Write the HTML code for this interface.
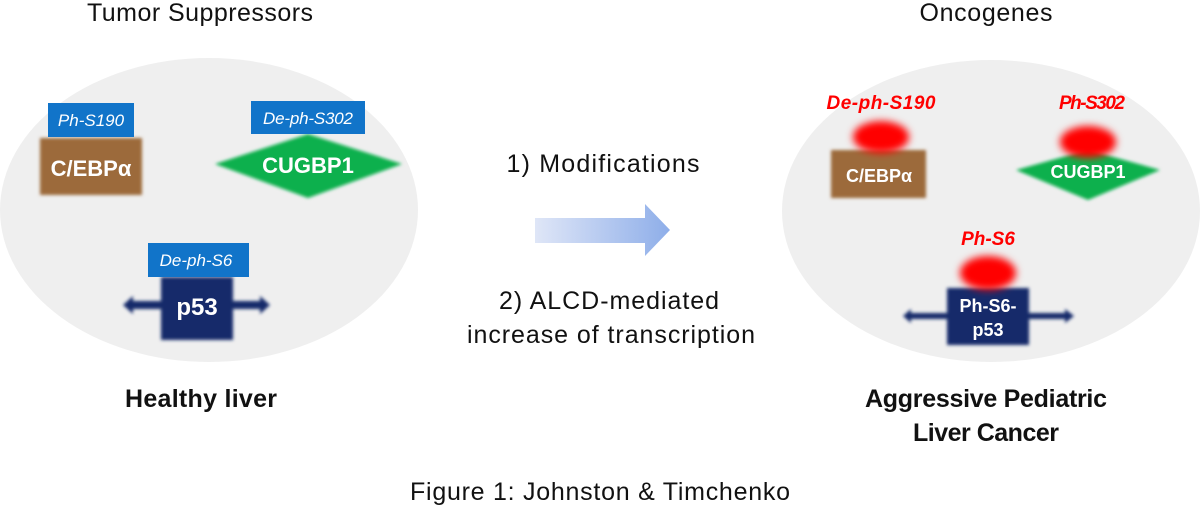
<!DOCTYPE html>
<html><head><meta charset="utf-8"><style>
body{margin:0;background:#fff}
svg{display:block}
text{font-family:"Liberation Sans",sans-serif}
</style></head><body>
<svg width="1200" height="506" viewBox="0 0 1200 506" xmlns="http://www.w3.org/2000/svg">
<defs>
<filter id="b1" x="-20%" y="-20%" width="140%" height="140%"><feGaussianBlur stdDeviation="1.5"/></filter>
<filter id="b2" x="-50%" y="-50%" width="200%" height="200%"><feGaussianBlur stdDeviation="4"/></filter>
<linearGradient id="g" x1="0" x2="1"><stop offset="0" stop-color="#dfe6f7"/><stop offset="1" stop-color="#8eaee9"/></linearGradient>
</defs>
<rect width="1200" height="506" fill="#fff"/>
<text x="200" y="21" font-size="25" text-anchor="middle" fill="#111" textLength="226">Tumor Suppressors</text>
<text x="986" y="21" font-size="25" text-anchor="middle" fill="#111" textLength="133">Oncogenes</text>
<ellipse cx="209" cy="210" rx="209" ry="152" fill="#efefef"/>
<ellipse cx="991" cy="211" rx="209" ry="151" fill="#efefef"/>
<g filter="url(#b1)">
<rect x="40" y="138" width="102" height="57" fill="#9c6a3a"/>
<polygon points="215,164 308,134 402,164 308,198" fill="#0bb04d"/>
<path d="M123,305 L133,296 L133,301 L161,301 L161,277 L233,277 L233,301 L260,301 L260,296 L270,305 L260,314 L260,309 L233,309 L233,340 L161,340 L161,309 L133,309 L133,314 Z" fill="#14296b"/>
</g>
<rect x="48" y="103" width="86" height="34" fill="#1174c9"/>
<text x="91" y="126" font-size="17" font-style="italic" text-anchor="middle" fill="#fff">Ph-S190</text>
<text x="91" y="176" font-size="22" font-weight="bold" text-anchor="middle" fill="#fff">C/EBPα</text>
<rect x="251" y="101" width="114" height="33" fill="#1174c9"/>
<text x="308" y="124" font-size="17" font-style="italic" text-anchor="middle" fill="#fff" textLength="90">De-ph-S302</text>
<text x="308" y="173" font-size="22" font-weight="bold" text-anchor="middle" fill="#fff">CUGBP1</text>
<rect x="148" y="243" width="101" height="34" fill="#1174c9"/>
<text x="196" y="266" font-size="17" font-style="italic" text-anchor="middle" fill="#fff">De-ph-S6</text>
<text x="197" y="315" font-size="24" font-weight="bold" text-anchor="middle" fill="#fff">p53</text>
<text x="201" y="407" font-size="25" font-weight="bold" text-anchor="middle" fill="#111" textLength="152">Healthy liver</text>
<text x="603" y="172" font-size="25" text-anchor="middle" fill="#111" textLength="193">1) Modifications</text>
<path d="M535,218 L645,218 L645,204 L670,230 L645,256 L645,243 L535,243 Z" fill="url(#g)"/>
<text x="609" y="309" font-size="25" text-anchor="middle" fill="#111" textLength="220">2) ALCD-mediated</text>
<text x="611" y="343" font-size="25" text-anchor="middle" fill="#111" textLength="288">increase of transcription</text>
<g filter="url(#b1)">
<rect x="831" y="150" width="95" height="48" fill="#9c6a3a"/>
<polygon points="1016,170 1088,150 1160,170 1088,200" fill="#0bb04d"/>
<path d="M903,316 L911,309 L911,313 L947,313 L947,288 L1029,288 L1029,313 L1065,313 L1065,309 L1074,316 L1065,323 L1065,319 L1029,319 L1029,345 L947,345 L947,319 L911,319 L911,323 Z" fill="#14296b"/>
</g>
<g filter="url(#b2)" fill="#ff0000">
<ellipse cx="881" cy="137" rx="28" ry="16"/>
<ellipse cx="1088" cy="142" rx="28" ry="16"/>
<ellipse cx="988" cy="273" rx="28" ry="17"/>
</g>
<text x="881" y="109" font-size="19" font-weight="bold" font-style="italic" text-anchor="middle" fill="#f00" textLength="109">De-ph-S190</text>
<text x="1092" y="109" font-size="19" font-weight="bold" font-style="italic" text-anchor="middle" fill="#f00" textLength="66">Ph-S302</text>
<text x="988" y="245" font-size="19" font-weight="bold" font-style="italic" text-anchor="middle" fill="#f00">Ph-S6</text>
<text x="879" y="182" font-size="18" font-weight="bold" text-anchor="middle" fill="#fff">C/EBPα</text>
<text x="1088" y="178" font-size="18" font-weight="bold" text-anchor="middle" fill="#fff">CUGBP1</text>
<text x="988" y="312" font-size="18" font-weight="bold" text-anchor="middle" fill="#fff">Ph-S6-</text>
<text x="988" y="336" font-size="18" font-weight="bold" text-anchor="middle" fill="#fff">p53</text>
<text x="986" y="407" font-size="25" font-weight="bold" text-anchor="middle" fill="#111" textLength="242">Aggressive Pediatric</text>
<text x="986" y="441" font-size="25" font-weight="bold" text-anchor="middle" fill="#111" textLength="146">Liver Cancer</text>
<text x="600" y="500" font-size="25" text-anchor="middle" fill="#111" textLength="380">Figure 1: Johnston &amp; Timchenko</text>
</svg>
</body></html>
